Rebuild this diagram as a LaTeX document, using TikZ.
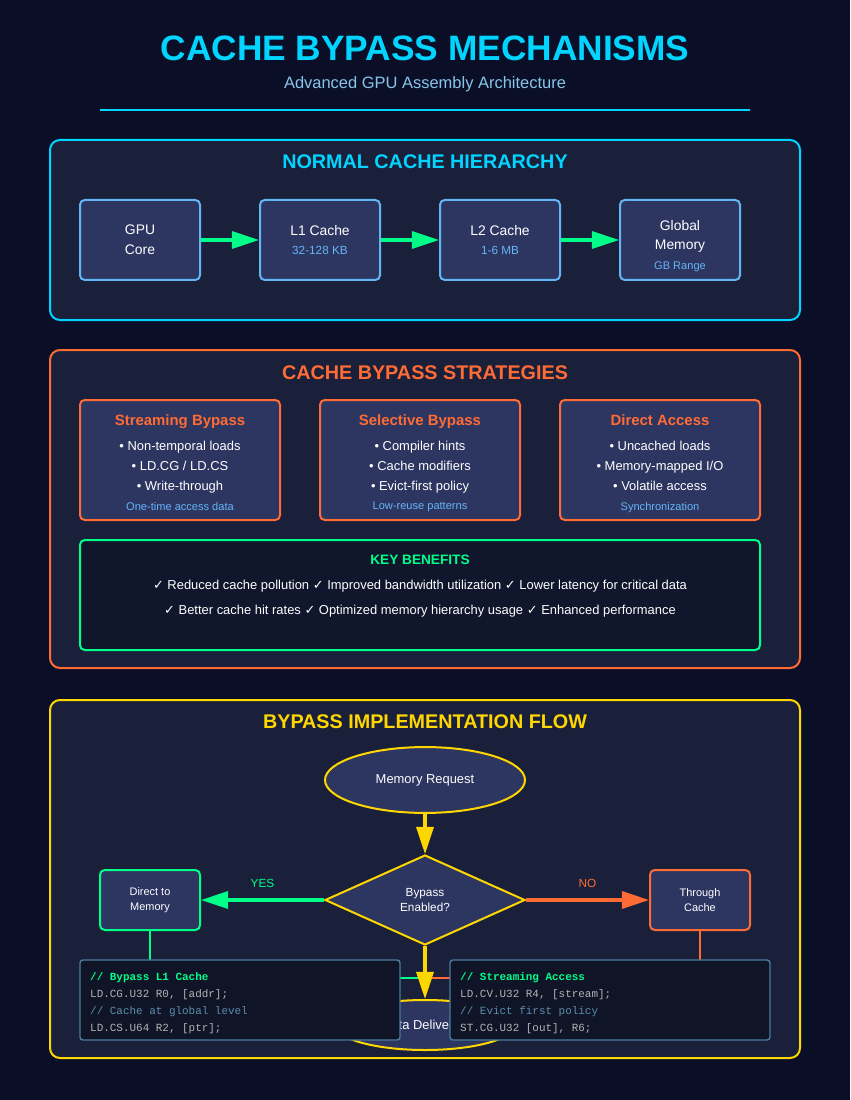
\documentclass[tikz,border=0pt]{standalone}
\usepackage{fontspec}
\setmainfont{Liberation Sans}
\setmonofont{Liberation Mono}
\newfontfamily\symfont{DejaVu Sans}
\usepackage{tikz}
\usetikzlibrary{positioning}
\usetikzlibrary{calc}
\usetikzlibrary{shapes.geometric}
\usetikzlibrary{arrows.meta}

\definecolor{bgc}{HTML}{0A0E27}
\definecolor{panelc}{HTML}{1A1F3A}
\definecolor{boxc}{HTML}{2D3561}
\definecolor{cyanc}{HTML}{00D4FF}
\definecolor{subc}{HTML}{64B5F6}
\definecolor{headc}{HTML}{87C6EA}
\definecolor{grnc}{HTML}{00FF88}
\definecolor{orc}{HTML}{FF6B35}
\definecolor{ylwc}{HTML}{FFD700}
\definecolor{keyc}{HTML}{10162C}
\definecolor{codec}{HTML}{0F1426}
\definecolor{codeedge}{HTML}{4A7C9B}
\definecolor{codegray}{HTML}{B4B4B4}
\definecolor{commentc}{HTML}{5F8EB0}

\newcommand{\ck}{{\symfont ✓}}

\begin{document}
\begin{tikzpicture}[x=0.85pt, y=-0.85pt,
    tight/.style={inner sep=0pt, text depth=0pt},
    panel/.style={line width=1.7pt, rounded corners=8.5pt, fill=panelc},
    head/.style={tight, font=\bfseries\fontsize{16.8}{20}\selectfont},
    hbox/.style={draw=subc, fill=boxc, line width=1.7pt, rounded corners=4pt, minimum width=102pt, minimum height=68pt},
    sbox/.style={draw=orc, fill=boxc, line width=1.7pt, rounded corners=4pt, minimum width=170pt, minimum height=102pt},
    fbox/.style={fill=boxc, line width=1.7pt, rounded corners=4pt, minimum width=85pt, minimum height=51pt, text=white, align=center, font=\fontsize{9.3}{12.75}\selectfont},
    code/.style={draw=codeedge, fill=codec, line width=1.2pt, rounded corners=2.5pt, minimum width=272pt, minimum height=68pt},
    txt/.style={tight, text=white, font=\fontsize{11.8}{14}\selectfont},
    note/.style={tight, text=subc, font=\fontsize{10}{12}\selectfont},
    bul/.style={tight, text=white, font=\fontsize{11}{13}\selectfont},
    foot/.style={tight, text=subc, font=\fontsize{9.4}{11}\selectfont},
    stitle/.style={tight, text=orc, font=\bfseries\fontsize{12.7}{15}\selectfont},
    mono/.style={tight, anchor=west, text=codegray, font=\ttfamily\fontsize{9.3}{11}\selectfont},
    flow/.style={line width=2.6pt, -{Triangle[length=23pt, width=14.5pt]}}]

        % Draw the background
        \fill[bgc] (0,0) rectangle (850,1100);

        % Draw the title
        \node[tight, text=cyanc, font=\bfseries\fontsize{30}{36}\selectfont] (title) at (425,48) {CACHE BYPASS MECHANISMS};
        \node[tight, text=headc, font=\fontsize{14}{17}\selectfont] (subtitle) at (425,83) {Advanced GPU Assembly Architecture};
        \draw[cyanc, line width=1.7pt] (100,110) -- (750,110);

        % Normal cache hierarchy
        \draw[panel, draw=cyanc] (50,140) rectangle (800,320);
        \node[head, text=cyanc] (h1) at (425,162) {NORMAL CACHE HIERARCHY};

        \node[hbox] (core) at (140,240) {};
        \node[hbox] (l1) at (320,240) {};
        \node[hbox] (l2) at (500,240) {};
        \node[hbox] (glob) at (680,240) {};

        \node[txt] at (140,230) {GPU};
        \node[txt] at (140,250) {Core};
        \node[txt] at (320,230) {L1 Cache};
        \node[note] at (320,250) {32-128 KB};
        \node[txt] at (500,230) {L2 Cache};
        \node[note] at (500,250) {1-6 MB};
        \node[txt] at (680,225) {Global};
        \node[txt] at (680,245) {Memory};
        \node[note, font=\fontsize{9.4}{11}\selectfont] at (680,266) {GB Range};

        \draw[flow, grnc] (core) -- (l1);
        \draw[flow, grnc] (l1) -- (l2);
        \draw[flow, grnc] (l2) -- (glob);

        % Cache bypass strategies
        \draw[panel, draw=orc] (50,350) rectangle (800,668);
        \node[head, text=orc] (h2) at (425,373) {CACHE BYPASS STRATEGIES};

        \node[sbox] (stream) at (180,460) {};
        \node[sbox] (select) at (420,460) {};
        \node[sbox] (direct) at (660,460) {};

        \node[stitle] at (180,420) {Streaming Bypass};
        \node[bul] at (180,446) {• Non-temporal loads};
        \node[bul] at (180,466) {• LD.CG / LD.CS};
        \node[bul] at (180,486) {• Write-through};
        \node[foot] at (180,506) {One-time access data};

        \node[stitle] at (420,420) {Selective Bypass};
        \node[bul] at (420,446) {• Compiler hints};
        \node[bul] at (420,466) {• Cache modifiers};
        \node[bul] at (420,486) {• Evict-first policy};
        \node[foot] at (420,506) {Low-reuse patterns};

        \node[stitle] at (660,420) {Direct Access};
        \node[bul] at (660,446) {• Uncached loads};
        \node[bul] at (660,466) {• Memory-mapped I/O};
        \node[bul] at (660,486) {• Volatile access};
        \node[foot] at (660,506) {Synchronization};

        % Key benefits
        \node[draw=grnc, fill=keyc, line width=1.7pt, rounded corners=4pt, minimum width=578pt, minimum height=93.5pt] (key) at (420,595) {};
        \node[tight, text=grnc, font=\bfseries\fontsize{11.6}{14}\selectfont] at (420,560) {KEY BENEFITS};
        \node[bul] at (420,585) {\ck{} Reduced cache pollution \ck{} Improved bandwidth utilization \ck{} Lower latency for critical data};
        \node[bul] at (420,610) {\ck{} Better cache hit rates \ck{} Optimized memory hierarchy usage \ck{} Enhanced performance};

        % Bypass implementation flow
        \draw[panel, draw=ylwc] (50,700) rectangle (800,1058);
        \node[head, text=ylwc] (h3) at (425,722) {BYPASS IMPLEMENTATION FLOW};

        \node[ellipse, draw=ylwc, fill=boxc, line width=1.7pt, minimum width=170pt, minimum height=56pt, text=white, font=\fontsize{11}{13}\selectfont] (req) at (425,780) {Memory Request};
        \node[diamond, draw=ylwc, fill=boxc, line width=1.7pt, aspect=2.2, inner sep=0pt, minimum width=170pt, minimum height=76.5pt, text=white, align=center, font=\fontsize{10}{12.75}\selectfont] (dec) at (425,900) {Bypass\\Enabled?};
        \node[fbox, draw=grnc] (mem) at (150,900) {Direct to\\Memory};
        \node[fbox, draw=orc] (thru) at (700,900) {Through\\Cache};
        \node[ellipse, draw=ylwc, fill=boxc, line width=1.7pt, minimum width=153pt, minimum height=42.5pt, text=white, font=\fontsize{11}{13}\selectfont] (done) at (425,1025) {Data Delivered};
        \coordinate (join) at (425,978);

        \draw[flow, ylwc] (req) -- (dec);
        \draw[flow, grnc] (dec) -- (mem) node[midway, above=9pt, inner sep=0pt, text=grnc, font=\fontsize{10}{12}\selectfont] {YES};
        \draw[flow, orc] (dec) -- (thru) node[midway, above=9pt, inner sep=0pt, text=orc, font=\fontsize{10}{12}\selectfont] {NO};
        \draw[grnc, line width=1.7pt] (mem) |- (join);
        \draw[orc, line width=1.7pt] (thru) |- (join);
        \draw[flow, ylwc] (dec) -- (done);

        % Code samples
        \node[code] (codel) at (240,1000) {};
        \node[code] (coder) at (610,1000) {};

        \node[mono, text=grnc, font=\ttfamily\bfseries\fontsize{9.3}{11}\selectfont] at (90,977) {// Bypass L1 Cache};
        \node[mono] at (90,994) {LD.CG.U32 R0, [addr];};
        \node[mono, text=commentc] at (90,1011) {// Cache at global level};
        \node[mono] at (90,1028) {LD.CS.U64 R2, [ptr];};

        \node[mono, text=grnc, font=\ttfamily\bfseries\fontsize{9.3}{11}\selectfont] at (460,977) {// Streaming Access};
        \node[mono] at (460,994) {LD.CV.U32 R4, [stream];};
        \node[mono, text=commentc] at (460,1011) {// Evict first policy};
        \node[mono] at (460,1028) {ST.CG.U32 [out], R6;};
\end{tikzpicture}
\end{document}
